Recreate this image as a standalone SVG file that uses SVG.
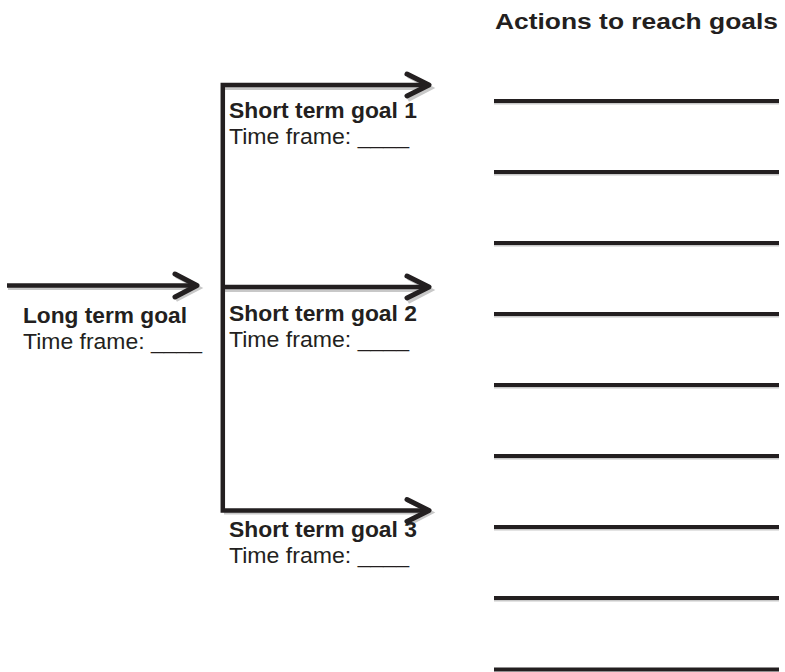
<svg xmlns="http://www.w3.org/2000/svg" width="785" height="672" viewBox="0 0 785 672">
<style>
text{font-family:"Liberation Sans",Arial,sans-serif;fill:#231f20;font-size:22px}
.b{font-weight:bold}
.ln{stroke:#231f20;stroke-width:4.5;fill:none;stroke-linejoin:miter}
.hd{stroke:#231f20;stroke-width:5;fill:none;stroke-linecap:round;stroke-linejoin:round}
.sh{stroke:#c8c8c8;stroke-width:4;fill:none}
.bl{stroke:#231f20;stroke-width:4}
.bls{stroke:#c8c8c8;stroke-width:2}
</style>
<rect width="785" height="672" fill="#fff"/>
<g id="connectors">
  <line class="sh" x1="8" y1="288" x2="194" y2="288"/>
  <line class="sh" x1="224" y1="88" x2="426" y2="88"/>
  <line class="sh" x1="224" y1="290" x2="426" y2="290"/>
  <line class="sh" x1="224" y1="512.5" x2="426" y2="512.5"/>
  <path class="sh" d="M176 276 L199 288 L176 300"/>
  <path class="sh" d="M408 76 L431 88 L408 100"/>
  <path class="sh" d="M408 278 L431 290 L408 302"/>
  <path class="sh" d="M408 500.5 L431 512.5 L408 524.5"/>
  <line class="ln" x1="7" y1="285.5" x2="195" y2="285.5"/>
  <path class="hd" d="M175 274 L197 285.5 L175 297"/>
  <path class="ln" d="M427 85 L222.8 85 L222.8 510.5 L427 510.5"/>
  <line class="ln" x1="222.8" y1="287" x2="427" y2="287"/>
  <path class="hd" d="M407 74 L429 85 L407 96"/>
  <path class="hd" d="M407 276 L429 287 L407 298"/>
  <path class="hd" d="M407 499.5 L429 510.5 L407 521.5"/>
</g>
<g id="long-term-goal">
  <text class="b" x="23" y="323" textLength="164" lengthAdjust="spacingAndGlyphs">Long term goal</text>
  <text x="23" y="349" textLength="179" lengthAdjust="spacingAndGlyphs">Time frame: ____</text>
</g>
<g id="short-term-goal-1">
  <text class="b" x="229" y="118" textLength="188" lengthAdjust="spacingAndGlyphs">Short term goal 1</text>
  <text x="229" y="143.5" textLength="180" lengthAdjust="spacingAndGlyphs">Time frame: ____</text>
</g>
<g id="short-term-goal-2">
  <text class="b" x="229" y="321" textLength="188" lengthAdjust="spacingAndGlyphs">Short term goal 2</text>
  <text x="229" y="347" textLength="180" lengthAdjust="spacingAndGlyphs">Time frame: ____</text>
</g>
<g id="short-term-goal-3">
  <text class="b" x="229" y="536.5" textLength="188" lengthAdjust="spacingAndGlyphs">Short term goal 3</text>
  <text x="229" y="562.5" textLength="180" lengthAdjust="spacingAndGlyphs">Time frame: ____</text>
</g>
<g id="actions">
  <text class="b" x="495" y="28.5" textLength="283" lengthAdjust="spacingAndGlyphs">Actions to reach goals</text>
  <g class="bls">
    <line x1="494" y1="103.5" x2="779" y2="103.5"/>
    <line x1="494" y1="174.5" x2="779" y2="174.5"/>
    <line x1="494" y1="245.5" x2="779" y2="245.5"/>
    <line x1="494" y1="316.5" x2="779" y2="316.5"/>
    <line x1="494" y1="387.5" x2="779" y2="387.5"/>
    <line x1="494" y1="458.5" x2="779" y2="458.5"/>
    <line x1="494" y1="529.5" x2="779" y2="529.5"/>
    <line x1="494" y1="600.5" x2="779" y2="600.5"/>
  </g>
  <g class="bl">
    <line x1="494" y1="101" x2="779" y2="101"/>
    <line x1="494" y1="172" x2="779" y2="172"/>
    <line x1="494" y1="243" x2="779" y2="243"/>
    <line x1="494" y1="314" x2="779" y2="314"/>
    <line x1="494" y1="385" x2="779" y2="385"/>
    <line x1="494" y1="456" x2="779" y2="456"/>
    <line x1="494" y1="527" x2="779" y2="527"/>
    <line x1="494" y1="598" x2="779" y2="598"/>
    <line x1="494" y1="669.5" x2="779" y2="669.5"/>
  </g>
</g>
</svg>
